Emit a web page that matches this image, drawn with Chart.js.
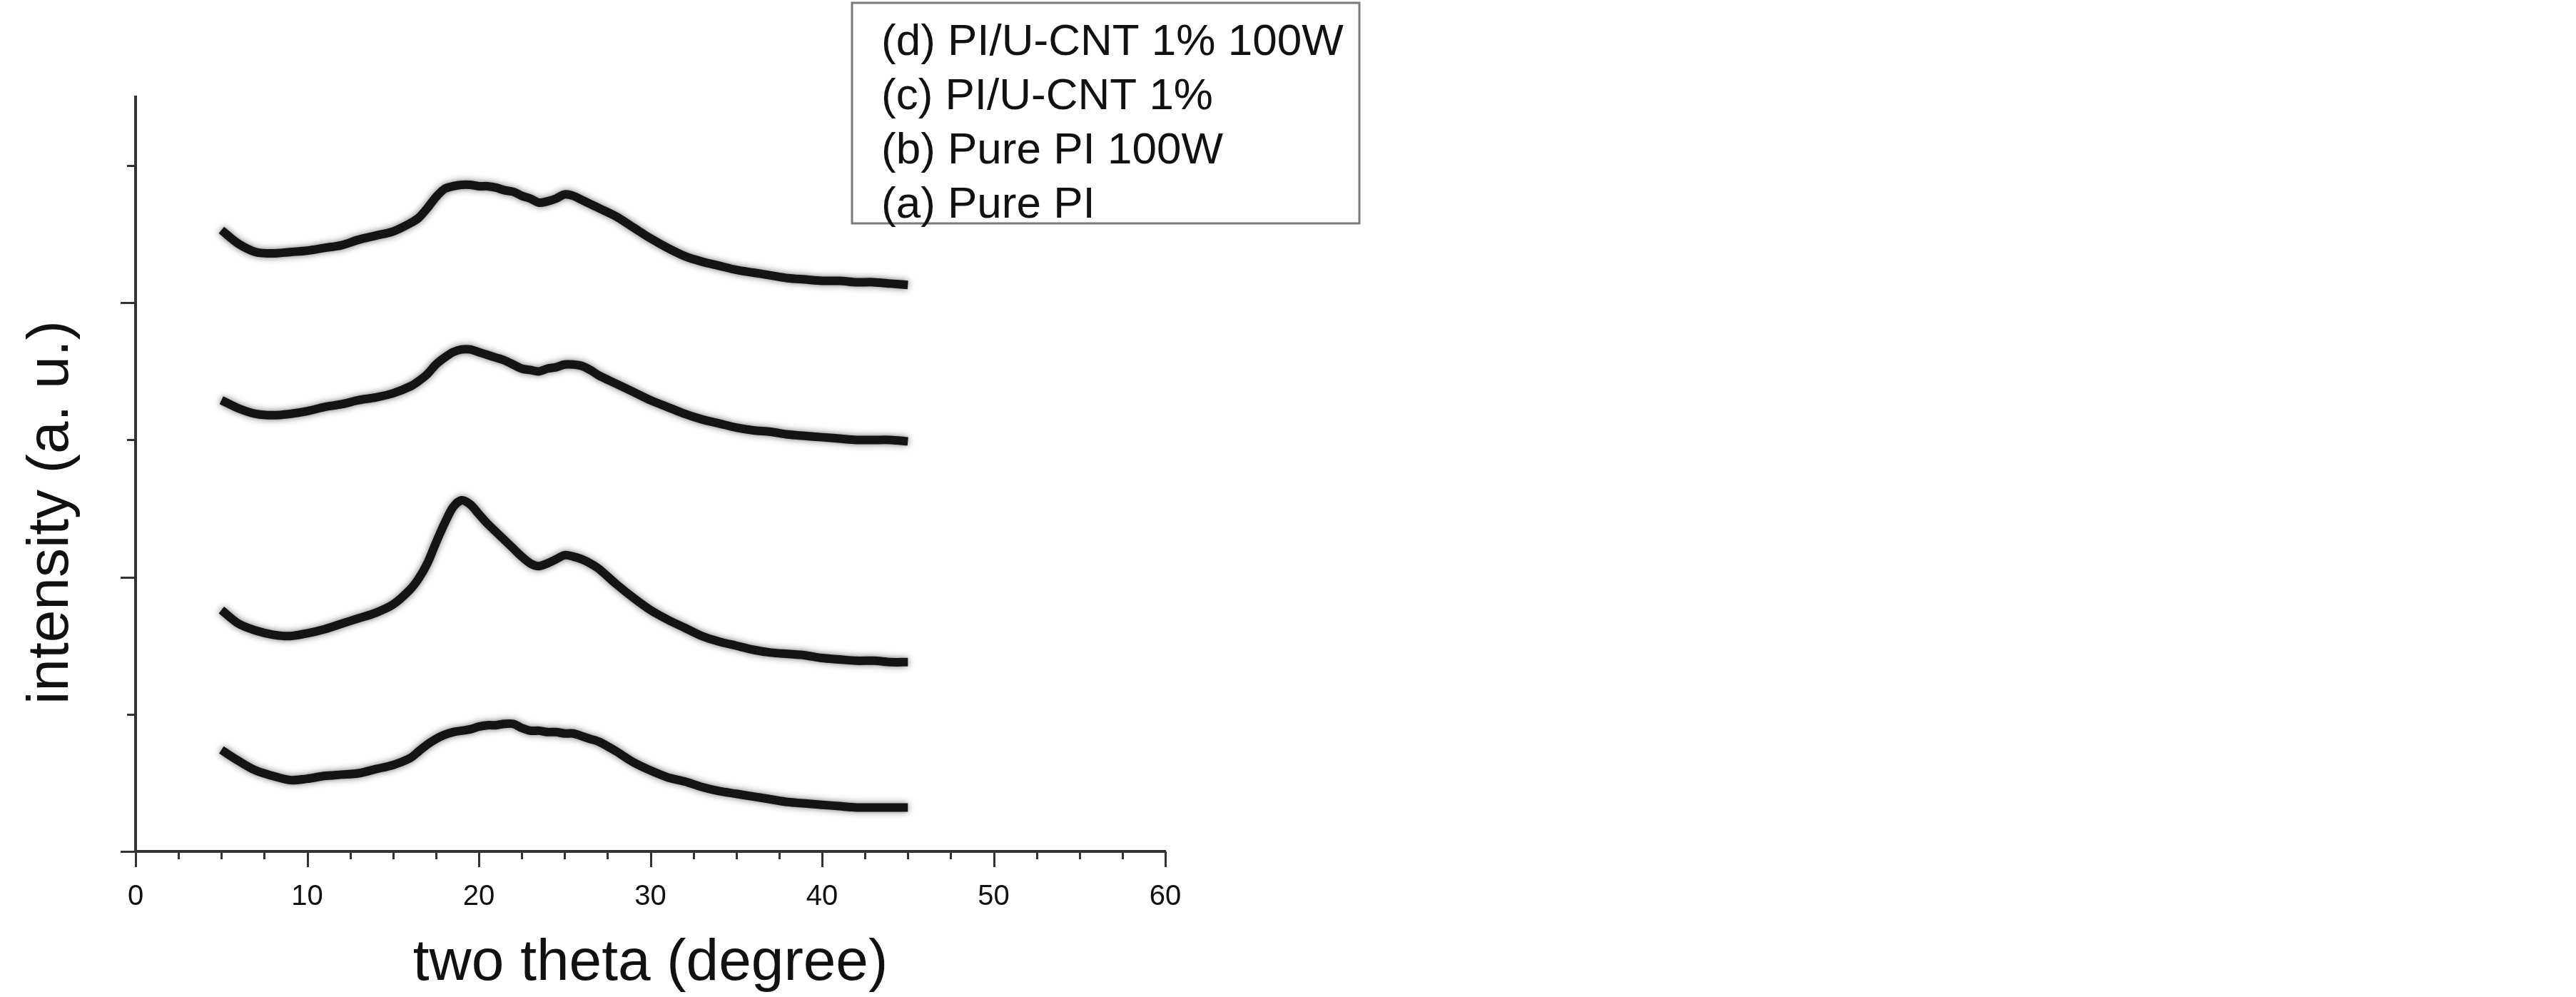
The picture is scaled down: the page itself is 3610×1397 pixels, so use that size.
<!DOCTYPE html>
<html>
<head>
<meta charset="utf-8">
<title>XRD patterns</title>
<script src="https://cdn.jsdelivr.net/npm/chart.js@4.4.1/dist/chart.umd.min.js"></script>
<style>
  html, body { margin: 0; padding: 0; background: #fff; }
  canvas { display: block; }
</style>
</head>
<body>
<canvas id="xrdChart" width="3610" height="1397"></canvas>
<script>
// two theta positions (degree), shared by all four traces
const twoTheta = [
  5, 6, 7, 8, 9, 10, 11, 12, 13, 14, 15, 16,
  16.5, 17, 17.5, 18, 18.5, 19, 19.5, 20, 20.5, 21, 21.5, 22, 22.5, 23, 23.5, 24, 24.5, 25, 25.5, 26, 26.5, 27,
  28, 29, 30, 31, 32, 33, 34, 35, 36, 37, 38, 39, 40, 41, 42, 43, 44, 45
];

// intensity (a. u.), traces are stacked with an offset as in the figure
const purePI = [
  0.74, 0.66, 0.59, 0.55, 0.52, 0.53, 0.55, 0.56, 0.57, 0.60, 0.63, 0.68,
  0.73, 0.78, 0.82, 0.85, 0.87, 0.88, 0.89, 0.91, 0.92, 0.92, 0.93, 0.93, 0.90, 0.88, 0.88, 0.87, 0.87, 0.86, 0.86, 0.84, 0.82, 0.80,
  0.73, 0.65, 0.59, 0.54, 0.51, 0.47, 0.44, 0.42, 0.40, 0.38, 0.36, 0.35, 0.34, 0.33, 0.32, 0.32, 0.32, 0.32
];
const purePI100W = [
  1.76, 1.66, 1.61, 1.58, 1.57, 1.59, 1.62, 1.66, 1.70, 1.74, 1.80, 1.91,
  1.99, 2.10, 2.25, 2.39, 2.51, 2.56, 2.53, 2.46, 2.39, 2.33, 2.27, 2.21, 2.15, 2.10, 2.08, 2.10, 2.13, 2.16, 2.15, 2.13, 2.10, 2.06,
  1.95, 1.85, 1.76, 1.69, 1.63, 1.57, 1.53, 1.50, 1.47, 1.45, 1.44, 1.43, 1.41, 1.40, 1.39, 1.39, 1.38, 1.38
];
const piCnt1 = [
  3.29, 3.23, 3.19, 3.18, 3.19, 3.21, 3.24, 3.26, 3.29, 3.31, 3.34, 3.39,
  3.43, 3.48, 3.55, 3.60, 3.64, 3.66, 3.66, 3.64, 3.62, 3.60, 3.58, 3.55, 3.52, 3.51, 3.50, 3.52, 3.53, 3.55, 3.55, 3.54, 3.51, 3.47,
  3.41, 3.35, 3.29, 3.24, 3.19, 3.15, 3.12, 3.09, 3.07, 3.06, 3.04, 3.03, 3.02, 3.01, 3.00, 3.00, 3.00, 2.99
];
const piCnt1100W = [
  4.53, 4.43, 4.37, 4.36, 4.37, 4.38, 4.40, 4.42, 4.46, 4.49, 4.52, 4.58,
  4.62, 4.69, 4.77, 4.83, 4.85, 4.86, 4.86, 4.85, 4.85, 4.84, 4.82, 4.81, 4.78, 4.76, 4.73, 4.74, 4.76, 4.79, 4.78, 4.75, 4.72, 4.69,
  4.63, 4.55, 4.47, 4.40, 4.34, 4.30, 4.27, 4.24, 4.22, 4.20, 4.18, 4.17, 4.16, 4.16, 4.15, 4.15, 4.14, 4.13
];

const seriesLabels = ['(a) Pure PI', '(b) Pure PI 100W', '(c) PI/U-CNT 1%', '(d) PI/U-CNT 1% 100W'];
const seriesValues = [purePI, purePI100W, piCnt1, piCnt1100W];

const xTickValues = [0, 10, 20, 30, 40, 50, 60];
const xMinorStep = 2.5;
const yTickValues = [0, 1, 2, 3, 4, 5];

const FONT = "'Liberation Sans', Arial, Helvetica, sans-serif";
const AXIS_COLOR = '#333';

// minor ticks, y axis title and the boxed legend are drawn here
const figureDecor = {
  id: 'figureDecor',
  beforeDatasetsDraw(chart) {
    // soft grey fringe, like the noisy band of the measured traces
    const ctx = chart.ctx;
    ctx.save();
    ctx.shadowColor = 'rgba(0, 0, 0, 0.55)';
    ctx.shadowBlur = 10;
  },
  afterDatasetsDraw(chart) {
    chart.ctx.restore();
  },
  afterDraw(chart) {
    const { ctx, scales: { x, y }, chartArea } = chart;
    ctx.save();
    ctx.strokeStyle = AXIS_COLOR;
    ctx.lineWidth = 3;

    // x tick marks, pointing down
    const xMax = xTickValues[xTickValues.length - 1];
    for (let v = xTickValues[0]; v <= xMax + 0.001; v += xMinorStep) {
      const px = Math.round(x.getPixelForValue(v)) + 0.5;
      const len = v % 10 === 0 ? 22 : 11;
      ctx.beginPath();
      ctx.moveTo(px, chartArea.bottom);
      ctx.lineTo(px, chartArea.bottom + len);
      ctx.stroke();
    }

    // y tick marks, pointing left
    yTickValues.forEach((v) => {
      const py = Math.round(y.getPixelForValue(v)) + 0.5;
      const len = v % 2 === 0 ? 21 : 12;
      ctx.beginPath();
      ctx.moveTo(chartArea.left, py);
      ctx.lineTo(chartArea.left - len, py);
      ctx.stroke();
    });

    // y axis title
    ctx.fillStyle = '#111';
    ctx.font = `82px ${FONT}`;
    ctx.textAlign = 'center';
    ctx.textBaseline = 'middle';
    ctx.translate(72, 718);
    ctx.rotate(-Math.PI / 2);
    ctx.fillText('intensity (a. u.)', 0, 0);
    ctx.restore();

    // legend: text only, last series on top
    ctx.save();
    ctx.strokeStyle = '#7a7a7a';
    ctx.lineWidth = 3;
    ctx.strokeRect(1194, 4, 711, 309);
    ctx.fillStyle = '#111';
    ctx.font = `62px ${FONT}`;
    ctx.textAlign = 'left';
    ctx.textBaseline = 'middle';
    const items = chart.data.datasets.map((d) => d.label).reverse();
    items.forEach((label, i) => {
      ctx.fillText(label, 1235, 60 + i * 76);
    });
    ctx.restore();
  }
};

const datasets = seriesLabels.map((label, i) => ({
  label,
  data: twoTheta.map((t, j) => ({ x: t, y: seriesValues[i][j] })),
  borderColor: '#141414',
  borderWidth: 12,
  pointRadius: 0,
  tension: 0.3,
  fill: false
}));

new Chart(document.getElementById('xrdChart'), {
  type: 'line',
  data: { datasets },
  options: {
    responsive: false,
    animation: false,
    devicePixelRatio: 1,
    layout: { padding: { top: 136, right: 1977, left: 0, bottom: 0 } },
    plugins: {
      legend: { display: false },
      tooltip: { enabled: false }
    },
    scales: {
      x: {
        type: 'linear',
        min: 0,
        max: 60,
        afterFit: (scale) => { scale.height = 204; },
        grid: { display: false, drawTicks: false },
        border: { display: true, color: AXIS_COLOR, width: 4 },
        ticks: {
          stepSize: 10,
          padding: 40,
          color: '#111',
          font: { family: FONT, size: 40 }
        },
        title: {
          display: true,
          text: 'two theta (degree)',
          color: '#111',
          font: { family: FONT, size: 82, lineHeight: 1 },
          padding: { top: 0, bottom: 6 }
        }
      },
      y: {
        type: 'linear',
        min: 0,
        max: 5.5,
        afterFit: (scale) => { scale.width = 190; },
        grid: { display: false, drawTicks: false },
        border: { display: true, color: AXIS_COLOR, width: 4 },
        ticks: { display: false }
      }
    }
  },
  plugins: [figureDecor]
});
</script>
</body>
</html>
